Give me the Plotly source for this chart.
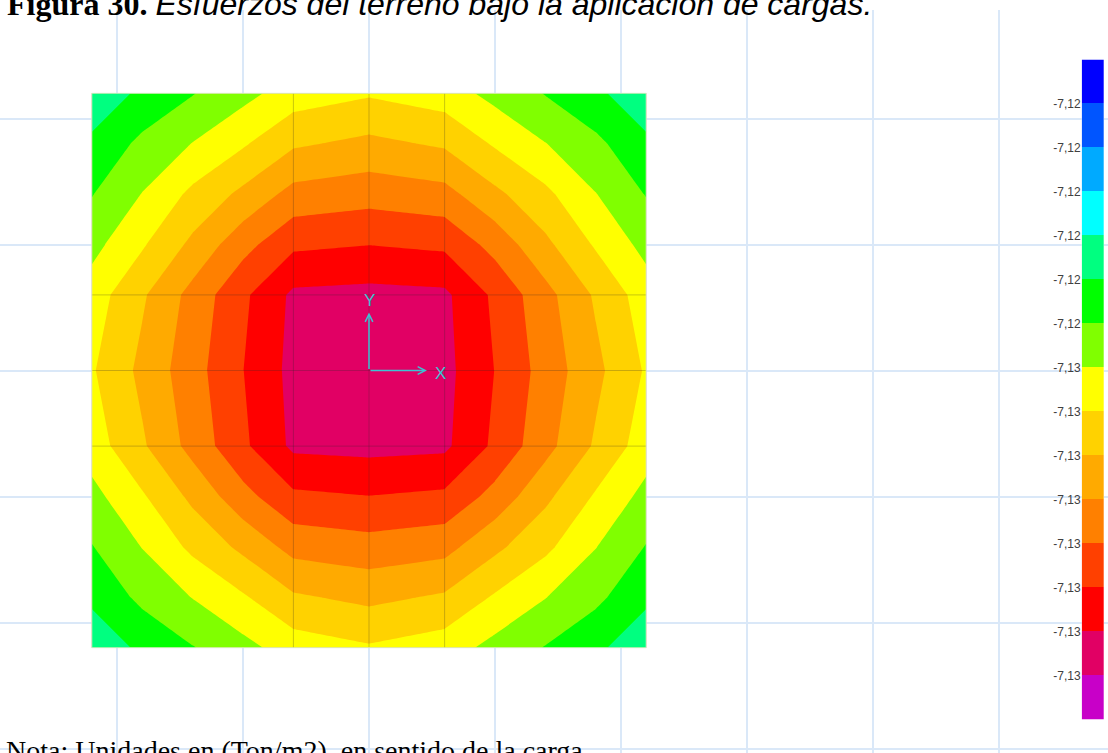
import plotly.graph_objects as go

# ---------------- data ----------------
# plate nodes (m), plate centred on the origin
node_x = [-1.1, -0.9, -0.7, -0.5, -0.3, 0.0, 0.3, 0.5, 0.7, 0.9, 1.1]
node_y = [-1.1, -0.9, -0.7, -0.5, -0.3, 0.0, 0.3, 0.5, 0.7, 0.9, 1.1]

# soil stress (Ton/m2) at the nodes, rows = node_y (bottom -> top)
stress = [
    [-7.12313, -7.12400, -7.12475, -7.12548, -7.12629, -7.12669, -7.12629, -7.12548, -7.12475, -7.12400, -7.12313],
    [-7.12400, -7.12504, -7.12583, -7.12668, -7.12766, -7.12805, -7.12766, -7.12668, -7.12583, -7.12504, -7.12400],
    [-7.12475, -7.12583, -7.12703, -7.12803, -7.12914, -7.12940, -7.12914, -7.12803, -7.12703, -7.12583, -7.12475],
    [-7.12548, -7.12668, -7.12803, -7.12945, -7.13060, -7.13078, -7.13060, -7.12945, -7.12803, -7.12668, -7.12548],
    [-7.12629, -7.12766, -7.12914, -7.13060, -7.13200, -7.13210, -7.13200, -7.13060, -7.12914, -7.12766, -7.12629],
    [-7.12669, -7.12805, -7.12940, -7.13078, -7.13210, -7.13240, -7.13210, -7.13078, -7.12940, -7.12805, -7.12669],
    [-7.12629, -7.12766, -7.12914, -7.13060, -7.13200, -7.13210, -7.13200, -7.13060, -7.12914, -7.12766, -7.12629],
    [-7.12548, -7.12668, -7.12803, -7.12945, -7.13060, -7.13078, -7.13060, -7.12945, -7.12803, -7.12668, -7.12548],
    [-7.12475, -7.12583, -7.12703, -7.12803, -7.12914, -7.12940, -7.12914, -7.12803, -7.12703, -7.12583, -7.12475],
    [-7.12400, -7.12504, -7.12583, -7.12668, -7.12766, -7.12805, -7.12766, -7.12668, -7.12583, -7.12504, -7.12400],
    [-7.12313, -7.12400, -7.12475, -7.12548, -7.12629, -7.12669, -7.12629, -7.12548, -7.12475, -7.12400, -7.12313],
]

# contour levels (ascending) and their labels on the legend bar
levels = [-7.1328, -7.1318, -7.1308, -7.1298, -7.1288, -7.1278, -7.1268,
          -7.1258, -7.1248, -7.1238, -7.1228, -7.1218, -7.1208, -7.1198]
tick_labels = ["-7,13", "-7,13", "-7,13", "-7,13", "-7,13", "-7,13", "-7,13",
               "-7,13", "-7,12", "-7,12", "-7,12", "-7,12", "-7,12", "-7,12"]
band_centers = [-7.1333, -7.1323, -7.1313, -7.1303, -7.1293, -7.1283, -7.1273, -7.1263,
                -7.1253, -7.1243, -7.1233, -7.1223, -7.1213, -7.1203, -7.1193]
band_colors = ["#c800c8", "#e10064", "#ff0000", "#ff4000", "#ff8000", "#ffaa00", "#ffd200",
               "#ffff00", "#80ff00", "#00ff00", "#00ff80", "#00ffff", "#00aaff", "#0055ff", "#0000ff"]

mesh_lines = [-0.3, 0.0, 0.3]
plate_half = 1.1
triad_len = 0.23

# ---------------- figure ----------------
n = len(band_colors)
colorscale = [[i / (n - 1), c] for i, c in enumerate(band_colors)]
step = round(levels[1] - levels[0], 6)

fig = go.Figure()

fig.add_trace(go.Contour(
    x=node_x, y=node_y, z=stress,
    colorscale=colorscale, showscale=False,
    autocontour=False,
    contours=dict(start=levels[0], end=levels[-1], size=step,
                  coloring="fill", showlines=False),
    line=dict(width=0, smoothing=0),
    hoverinfo="skip",
))

# area-object edges drawn on the plate
mx, my = [], []
for c in mesh_lines:
    mx += [c, c, None, -plate_half, plate_half, None]
    my += [-plate_half, plate_half, None, c, c, None]
fig.add_trace(go.Scatter(x=mx, y=my, mode="lines",
                         line=dict(color="rgba(40,40,40,0.25)", width=1),
                         hoverinfo="skip", showlegend=False))
# plate outline
fig.add_trace(go.Scatter(
    x=[-plate_half, plate_half, plate_half, -plate_half, -plate_half],
    y=[-plate_half, -plate_half, plate_half, plate_half, -plate_half],
    mode="lines", line=dict(color="rgba(215,235,215,0.9)", width=1),
    hoverinfo="skip", showlegend=False))

# legend bar as a heat strip on its own axes
fig.add_trace(go.Heatmap(
    x=[0], y=band_centers, z=[[v] for v in band_centers],
    colorscale=colorscale, zmin=band_centers[0], zmax=band_centers[-1],
    showscale=False, xaxis="x2", yaxis="y2", hoverinfo="skip",
))

grid_col = "#dae8f8"
teal = "#3cc3d2"

fig.update_layout(
    width=1108, height=753,
    margin=dict(l=0, r=0, t=10, b=0, pad=0),
    paper_bgcolor="white", plot_bgcolor="white",
    showlegend=False,
    xaxis=dict(range=[-1.46429, 2.93254], tick0=0, dtick=0.5, showgrid=True,
               gridcolor=grid_col, gridwidth=1.5, zeroline=False,
               showticklabels=False, ticks="", showline=False, fixedrange=True),
    yaxis=dict(range=[-1.51786, 1.43056], tick0=0, dtick=0.5, showgrid=True,
               gridcolor=grid_col, gridwidth=1.5, zeroline=False,
               showticklabels=False, ticks="", showline=False, fixedrange=True),
    xaxis2=dict(domain=[0.97626, 0.99639], range=[-0.5, 0.5], visible=False,
                anchor="y2", fixedrange=True),
    yaxis2=dict(domain=[0.04509, 0.93338],
                range=[band_centers[0] - step / 2, band_centers[-1] + step / 2],
                anchor="x2", side="left", tickvals=levels, ticktext=tick_labels,
                ticks="", showgrid=False, zeroline=False, showline=False,
                tickfont=dict(family="Liberation Sans, Arial", size=12, color="#404040"),
                fixedrange=True),
    annotations=[
        dict(xref="paper", yref="paper", x=0.0045, y=1.0080,
             xanchor="left", yanchor="middle", showarrow=False,
             text='<b>Figura 30.</b> <span style="font-family:Liberation Sans,Arial,sans-serif">'
                  '<i>Esfuerzos del terreno bajo la aplicación de cargas.</i></span>',
             font=dict(family="Liberation Serif, Times New Roman, serif", size=32, color="black")),
        dict(xref="paper", yref="paper", x=0.0036, y=0.004,
             xanchor="left", yanchor="middle", showarrow=False,
             text="Nota: Unidades en (Ton/m2), en sentido de la carga.",
             font=dict(family="Liberation Serif, Times New Roman, serif", size=28, color="black")),
        dict(x=0.0, y=triad_len, ax=0.0, ay=0.0, xref="x", yref="y", axref="x", ayref="y",
             text="", showarrow=True, arrowhead=5, arrowsize=1, arrowwidth=1.5,
             arrowcolor=teal, standoff=0, startstandoff=0),
        dict(x=triad_len, y=0.0, ax=0.0, ay=0.0, xref="x", yref="y", axref="x", ayref="y",
             text="", showarrow=True, arrowhead=5, arrowsize=1, arrowwidth=1.5,
             arrowcolor=teal, standoff=0, startstandoff=0),
        dict(x=0.0, y=0.278, xref="x", yref="y", text="Y", showarrow=False,
             font=dict(family="Liberation Sans, Arial", size=17, color=teal)),
        dict(x=0.284, y=-0.01, xref="x", yref="y", text="X", showarrow=False,
             font=dict(family="Liberation Sans, Arial", size=17, color=teal)),
    ],
)

fig.write_html(
    "out.html",
    config={"displayModeBar": False},
    post_script="document.body.style.margin='0px';document.body.style.overflow='hidden';",
)
